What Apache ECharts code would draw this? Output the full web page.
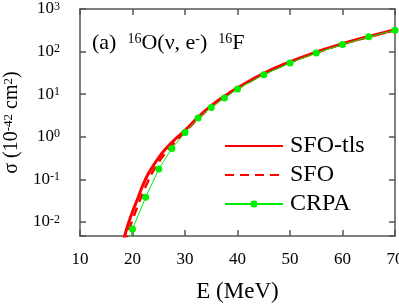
<!DOCTYPE html>
<html>
<head>
<meta charset="utf-8">
<script src="https://cdn.jsdelivr.net/npm/echarts@6/dist/echarts.min.js"></script>
<style>
html,body{margin:0;padding:0;background:#fff;}
#chart{width:399px;height:306px;}
</style>
</head>
<body>
<div id="chart"></div>
<script>
// Energies (MeV) for the SFO curves
var energiesSFO = [17.5, 18, 18.5, 19, 19.5, 20, 21, 22, 23, 24, 25, 26, 27.5, 30, 32.5, 35, 37.5, 40, 45, 50, 55, 60, 65, 70];
// SFO-tls cross sections (10^-42 cm^2)
var sfoTls = [0.0012, 0.00282, 0.00468, 0.00759, 0.01175, 0.0174, 0.0355, 0.0741, 0.135, 0.214, 0.324, 0.468, 0.741, 1.41, 2.88, 5.37, 8.91, 14.1, 30.9, 57.5, 97.7, 153, 226, 327];
// SFO cross sections
var sfo = [0.0006, 0.0013, 0.00263, 0.00468, 0.00741, 0.0112, 0.024, 0.049, 0.093, 0.162, 0.257, 0.38, 0.63, 1.29, 2.69, 5.01, 8.51, 13.5, 29.5, 55.6, 94.4, 150, 221, 320];
// CRPA points
var energiesCRPA = [17.5, 20, 22.5, 25, 27.5, 30, 32.5, 35, 37.5, 40, 45, 50, 55, 60, 65, 70];
var crpa = [0.0003, 0.0068, 0.038, 0.174, 0.53, 1.26, 2.75, 4.9, 8.1, 13.2, 28.6, 54, 93, 146, 222, 316];
// Axis ticks
var xTicks = [10, 20, 30, 40, 50, 60, 70];
var yMin = 0.00468, yMax = 1000;

function pairs(xs, ys) { return xs.map(function (x, i) { return [x, ys[i]]; }); }

var FONT = '"Liberation Serif", "Times New Roman", serif';
var axisColor = '#555';

function yLabel(v) {
  var l = Math.log10(v);
  var e = Math.round(l);
  if (Math.abs(l - e) > 1e-6) return '';
  return '{b|10}{s|' + e + '}';
}

var chart = echarts.init(document.getElementById('chart'), null, {renderer: 'canvas'});
var commonX = {
  type: 'value', min: xTicks[0], max: xTicks[xTicks.length - 1], interval: 10,
  axisLine: {show: true, lineStyle: {color: axisColor, width: 1.5}},
  axisTick: {show: true, inside: true, length: 6, lineStyle: {color: axisColor, width: 1.5}},
  splitLine: {show: false}
};
var commonY = {
  type: 'log', min: yMin, max: yMax, logBase: 10,
  axisLine: {show: true, lineStyle: {color: axisColor, width: 1.5}},
  axisTick: {show: true, inside: true, length: 6, lineStyle: {color: axisColor, width: 1.5}},
  splitLine: {show: false},
  minorTick: {show: false}
};

var option = {
  animation: false,
  backgroundColor: '#fff',
  textStyle: {fontFamily: FONT, color: '#000'},
  grid: {left: 80, right: 4, top: 9, bottom: 70, containLabel: false, outerBoundsMode: 'none'},
  xAxis: [
    Object.assign({}, commonX, {
      position: 'bottom',
      name: 'E (MeV)', nameLocation: 'middle', nameGap: 44,
      nameTextStyle: {fontFamily: FONT, fontSize: 23, color: '#000'},
      axisLabel: {show: true, margin: 15, fontFamily: FONT, fontSize: 17, color: '#000'}
    }),
    Object.assign({}, commonX, {position: 'top', axisLabel: {show: false}})
  ],
  yAxis: [
    Object.assign({}, commonY, {
      position: 'left',
      name: '{n|σ (10}{s|-42}{n| cm}{s|2}{n|)}', nameLocation: 'middle', nameGap: 52, nameRotate: 90,
      nameTextStyle: {
        fontFamily: FONT, color: '#000',
        rich: {
          n: {fontFamily: FONT, fontSize: 20, color: '#000'},
          s: {fontFamily: FONT, fontSize: 13, color: '#000', verticalAlign: 'top'}
        }
      },
      axisLabel: {
        show: true, margin: 20, formatter: yLabel, fontFamily: FONT, color: '#000',
        rich: {
          b: {fontFamily: FONT, fontSize: 17, color: '#000'},
          s: {fontFamily: FONT, fontSize: 12, color: '#000', verticalAlign: 'top'}
        }
      }
    }),
    Object.assign({}, commonY, {position: 'right', axisLabel: {show: false}})
  ],
  legend: {
    orient: 'vertical', left: 219, top: 129,
    itemWidth: 58, itemHeight: 9, itemGap: 5,
    textStyle: {fontFamily: FONT, fontSize: 24, color: '#000', lineHeight: 24, padding: [0, 0, 0, 2]},
    data: [
      {name: 'SFO-tls', itemStyle: {opacity: 0}},
      {name: 'SFO', itemStyle: {opacity: 0}},
      {name: 'CRPA'}
    ]
  },
  graphic: [{
    type: 'text', left: 92, top: 32,
    style: {
      text: '(a)  {s|16}O(ν, e{s|-})  {s|16}F',
      font: '22px "Liberation Serif"',
      fill: '#000',
      rich: {s: {fontFamily: FONT, fontSize: 14, fill: '#000', verticalAlign: 'top'}}
    }
  }],
  series: [
    {
      name: 'SFO-tls', type: 'line', data: pairs(energiesSFO, sfoTls),
      symbol: 'none', smooth: true, clip: true,
      lineStyle: {color: '#ff0000', width: 3}, itemStyle: {color: '#ff0000'}
    },
    {
      name: 'SFO', type: 'line', data: pairs(energiesSFO, sfo),
      symbol: 'none', smooth: true, clip: true,
      lineStyle: {color: '#ff0000', width: 2.5, type: [9, 6]}, itemStyle: {color: '#ff0000'}
    },
    {
      name: 'CRPA', type: 'line', data: pairs(energiesCRPA, crpa),
      symbol: 'circle', symbolSize: 7, showAllSymbol: true, clip: true,
      lineStyle: {color: '#00ee00', width: 1}, itemStyle: {color: '#00ee00'}
    }
  ]
};
chart.setOption(option);
</script>
</body>
</html>
